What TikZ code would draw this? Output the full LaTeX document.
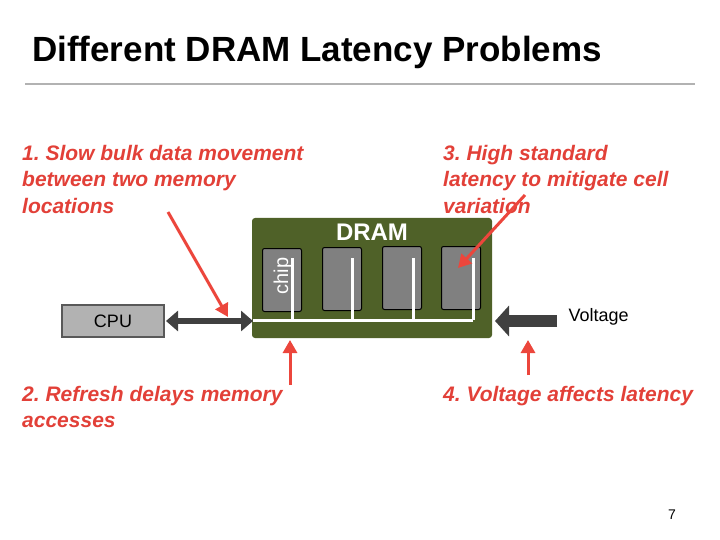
\documentclass[tikz,border=0pt]{standalone}
\usepackage{fontspec}
\setmainfont{Liberation Sans}
\usetikzlibrary{arrows.meta}
\definecolor{dramgreen}{RGB}{79,97,40}
\definecolor{chipgray}{RGB}{128,128,128}
\definecolor{redarrow}{RGB}{236,70,60}
\definecolor{redtext}{RGB}{226,64,56}
\tikzset{>=latex,
  chip/.style={draw=black,line width=1pt,fill=chipgray,rounded corners=2pt,minimum width=39pt,minimum height=63pt,inner sep=0pt},
  problem/.style={text=redtext,font=\fontsize{21}{26.5}\selectfont\bfseries\itshape\frenchspacing,align=left,anchor=north west,inner sep=0pt},
  redarr/.style={draw=redarrow,line width=3pt,-{Triangle[length=13pt,width=14pt]}},
  bus/.style={draw=white,line width=3pt}}
\begin{document}
\begin{tikzpicture}[x=1pt,y=-1pt]
  \useasboundingbox (0,0) rectangle (720,540);
  % title
  \node[anchor=west,inner sep=0pt,font=\fontsize{35}{38}\selectfont\bfseries] (title) at (32,52) {Different DRAM Latency Problems};
  \draw[gray!60,line width=1.5pt] (25,84) -- (695,84);
  % DRAM module
  \node[fill=dramgreen,rounded corners=3pt,minimum width=240pt,minimum height=120pt,inner sep=0pt] (dram) at (372,278) {};
  \node[text=white,font=\fontsize{24}{28}\selectfont\bfseries] (dramlbl) at (372,232) {DRAM};
  \node[chip] (c1) at (282,280) {};
  \node[chip] (c2) at (342,279) {};
  \node[chip] (c3) at (402,278) {};
  \node[chip] (c4) at (461,278) {};
  \node[rotate=90,text=white,font=\fontsize{20}{22}\selectfont] (chiplbl) at (283,276) {chip};
  \coordinate (busl) at (253,320);
  \coordinate (busr) at (473,320);
  \draw[bus] (busl) -- (busr);
  \foreach \x in {292,352,413,473}
    \draw[bus] (\x,258) -- (\x,320);
  % CPU
  \node[draw=gray!70!black,line width=1.5pt,fill=gray!60,minimum width=102pt,minimum height=32pt,inner sep=0pt,font=\fontsize{18}{20}\selectfont] (cpu) at (113,321) {CPU};
  \coordinate (cpue) at (166,321);
  \coordinate (dramw) at (253,321);
  \draw[draw=black!75,line width=6pt,{Triangle[length=12pt,width=20pt]}-{Triangle[length=12pt,width=20pt]}] (cpue) -- (dramw);
  \coordinate (volt) at (557,321);
  \coordinate (drame) at (495,321);
  \draw[draw=black!75,line width=12pt,-{Triangle[length=14pt,width=30pt]}] (volt) -- (drame);
  \node[anchor=west,font=\fontsize{18}{20}\selectfont] (voltlbl) at (565,317) {Voltage};
  % problems
  \node[problem] (p1) at (22,145) {1. Slow bulk data movement\\between two memory\\locations};
  \node[problem] (p2) at (22,386) {2. Refresh delays memory\\accesses};
  \node[problem] (p3) at (443,145) {3. High standard\\latency to mitigate cell\\variation};
  \node[problem] (p4) at (443,386) {4. Voltage affects latency};
  \coordinate (a1s) at (168,212);
  \coordinate (a1e) at (228,317);
  \draw[redarr] (a1s) -- (a1e);
  \draw[redarr] (290,385) -- (290,340);
  \draw[redarr] (528,375) -- (528,340);
  \draw[redarr] (525,195) -- (458,268);
  \node[font=\fontsize{14}{16}\selectfont] (page) at (672,515) {7};
\end{tikzpicture}
\end{document}
